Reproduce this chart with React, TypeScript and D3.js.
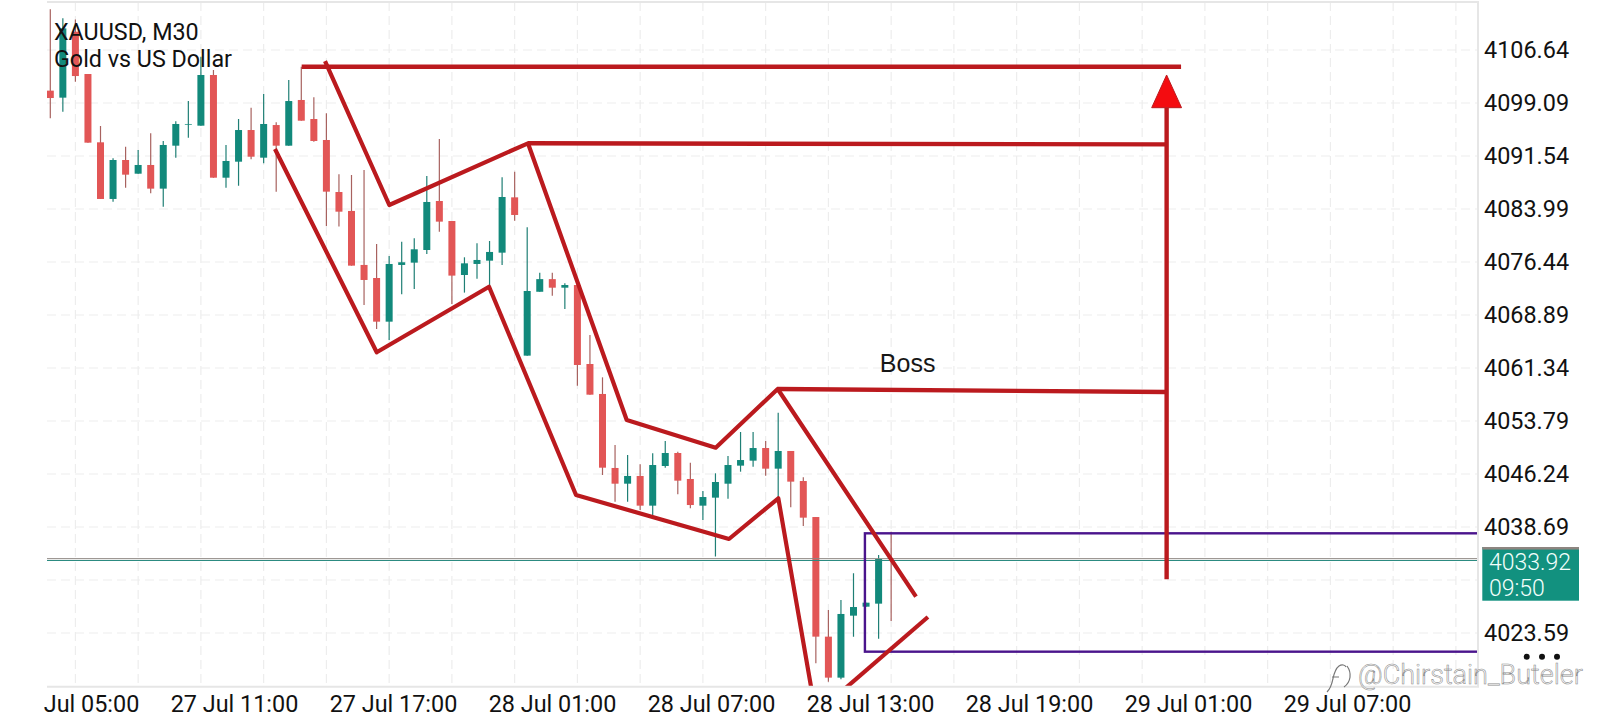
import { useEffect, useRef } from "react";
import * as d3 from "d3";

const WIDTH = 1600;
const HEIGHT = 720;

const opens = [
  4100.85, 4099.85, 4109.25, 4103.22, 4093.49, 4085.42, 4090.97, 4089.02, 4090.26, 4086.89, 4093.01, 4096.0,
  4095.86, 4103.08, 4088.45, 4090.73, 4095.24, 4091.3, 4095.95, 4093.01, 4099.52, 4096.81, 4093.82, 4086.41,
  4083.71, 4076.02, 4074.16, 4067.94, 4076.02, 4076.35, 4078.15, 4085.13, 4082.28, 4074.59, 4076.16, 4076.63,
  4077.77, 4085.65, 4063.1, 4072.2, 4074.0, 4072.78, 4073.16, 4061.91, 4057.64, 4047.1, 4044.86, 4045.96,
  4041.73, 4047.38, 4049.23, 4045.53, 4041.73, 4042.87, 4044.86, 4047.43, 4048.14, 4049.94, 4047.0, 4049.52,
  4045.24, 4040.11, 4023.07, 4017.23, 4026.06, 4027.34, 4027.77, 4034.0,
];
const highs = [
  4112.43, 4111.15, 4111.0, 4103.22, 4095.81, 4091.21, 4092.87, 4092.39, 4094.77, 4093.68, 4096.48, 4099.37,
  4105.69, 4103.79, 4093.11, 4096.81, 4098.42, 4100.37, 4096.33, 4102.36, 4104.26, 4099.9, 4097.62, 4088.93,
  4088.84, 4089.55, 4079.0, 4077.3, 4079.34, 4079.81, 4088.69, 4093.96, 4082.28, 4077.11, 4079.1, 4079.43,
  4088.5, 4089.31, 4081.38, 4074.92, 4074.92, 4073.4, 4073.4, 4066.04, 4060.01, 4050.37, 4048.95, 4047.62,
  4049.18, 4050.94, 4049.42, 4047.86, 4043.82, 4046.34, 4048.8, 4052.22, 4052.22, 4050.94, 4054.98, 4049.52,
  4045.76, 4040.11, 4026.87, 4028.29, 4032.09, 4027.91, 4034.7, 4038.03,
];
const lows = [
  4096.9, 4097.85, 4102.13, 4093.44, 4085.42, 4085.04, 4087.03, 4089.02, 4086.22, 4084.32, 4091.3, 4094.15,
  4095.86, 4088.45, 4087.03, 4087.31, 4091.06, 4090.49, 4086.46, 4093.01, 4096.57, 4093.58, 4081.57, 4081.48,
  4075.92, 4070.32, 4066.9, 4065.33, 4071.84, 4072.6, 4077.58, 4080.76, 4070.46, 4072.08, 4074.07, 4072.93,
  4076.02, 4082.33, 4063.1, 4072.2, 4071.64, 4069.74, 4058.82, 4057.54, 4046.1, 4042.3, 4042.3, 4041.11,
  4040.4, 4047.14, 4043.34, 4041.35, 4039.69, 4034.47, 4042.73, 4046.57, 4047.28, 4046.0, 4042.77, 4041.49,
  4038.83, 4019.27, 4016.66, 4017.0, 4023.07, 4027.34, 4022.78, 4025.3,
];
const closes = [
  4099.8, 4109.72, 4102.93, 4093.44, 4085.42, 4090.97, 4088.88, 4090.26, 4086.89, 4093.11, 4096.1, 4096.1,
  4103.08, 4088.45, 4090.83, 4095.24, 4091.44, 4096.1, 4093.01, 4099.37, 4096.57, 4093.68, 4086.46, 4083.61,
  4075.92, 4073.88, 4067.94, 4076.16, 4076.4, 4078.25, 4084.99, 4082.19, 4074.5, 4076.25, 4076.73, 4077.87,
  4085.7, 4083.14, 4072.31, 4074.0, 4072.78, 4073.16, 4061.77, 4057.54, 4047.14, 4044.86, 4045.96, 4041.73,
  4047.52, 4049.23, 4045.29, 4041.82, 4042.96, 4045.1, 4047.52, 4048.23, 4049.94, 4047.0, 4049.52, 4045.15,
  4040.02, 4023.07, 4017.23, 4026.3, 4027.29, 4027.91, 4034.13, 4033.92,
];

const priceTicks = [
  4106.64, 4099.09, 4091.54, 4083.99, 4076.44, 4068.89, 4061.34, 4053.79, 4046.24, 4038.69, 4031.14, 4023.59,
];
const timeLabels = [
  "27 Jul 05:00",
  "27 Jul 11:00",
  "27 Jul 17:00",
  "28 Jul 01:00",
  "28 Jul 07:00",
  "28 Jul 13:00",
  "28 Jul 19:00",
  "29 Jul 01:00",
  "29 Jul 07:00",
];
const gridBars = d3.range(2, 113, 5);

// hand drawn objects on the chart, as [bar, price]
type Pt = [number, number];
const topLevel: Pt[] = [[20.03, 4104.26], [90.1, 4104.26]];
const upperZigzag: Pt[] = [
  [21.89, 4105.07], [27.01, 4084.56], [38.06, 4093.35], [45.93, 4053.93],
  [53.02, 4049.99], [57.96, 4058.35], [68.98, 4028.76],
];
const lowerZigzag: Pt[] = [
  [17.9, 4092.54], [26.01, 4063.58], [34.96, 4072.92], [41.89, 4043.25],
  [54.08, 4036.98], [58.01, 4042.78], [60.94, 4012.6],
];
const lowerLeg: Pt[] = [[61.81, 4013.34], [69.93, 4025.87]];
const swingHigh: Pt[] = [[38.06, 4093.35], [88.9, 4093.2]];
const bossLevel: Pt[] = [[57.96, 4058.35], [88.9, 4057.92]];
const arrowShaft: Pt[] = [[88.95, 4031.24], [88.95, 4098.42]];
const arrowHead: Pt[] = [[87.76, 4098.42], [88.95, 4103.08], [90.14, 4098.42]];
const boxBars = [64.91, 118];
const boxPrices = [4037.79, 4020.93];
const bidPrice = 4033.92;
const askPrice = 4034.18;

const GREEN = "#12897b";
const RED = "#e25656";
const LINE_RED = "#bb1a1e";
const PURPLE = "#4a148c";
const GRID = "#ededed";
const FONT = "Roboto, sans-serif";

export default function App() {
  const svgRef = useRef<SVGSVGElement>(null);

  useEffect(() => {
    const plot = { left: 47, right: 1478, top: 2, bottom: 686.7 };
    const svg = d3.select(svgRef.current);
    svg.selectAll("*").remove();

    const x = d3.scaleLinear().domain([0, 113]).range([50.3, 1468.45]);
    const y = d3.scaleLinear().domain([4106.64, 4023.59]).range([50, 633]);
    const timeX = d3.scalePoint<string>().domain(timeLabels).range([75, 1347]);

    const defs = svg.append("defs");
    defs
      .append("clipPath")
      .attr("id", "plot-clip")
      .append("rect")
      .attr("x", plot.left)
      .attr("y", plot.top)
      .attr("width", plot.right - plot.left)
      .attr("height", plot.bottom - plot.top);
    defs
      .append("clipPath")
      .attr("id", "label-clip")
      .append("rect")
      .attr("x", 44)
      .attr("y", plot.bottom)
      .attr("width", WIDTH)
      .attr("height", HEIGHT - plot.bottom);

    const g = svg.append("g").attr("clip-path", "url(#plot-clip)");

    // Grid
    g.append("g")
      .selectAll("line")
      .data(priceTicks)
      .join("line")
      .attr("x1", plot.left)
      .attr("x2", plot.right)
      .attr("y1", (d) => y(d))
      .attr("y2", (d) => y(d))
      .attr("stroke", GRID)
      .attr("stroke-width", 1.2)
      .attr("stroke-dasharray", "9,5");
    g.append("g")
      .selectAll("line")
      .data(gridBars)
      .join("line")
      .attr("x1", (d) => x(d))
      .attr("x2", (d) => x(d))
      .attr("y1", plot.top)
      .attr("y2", plot.bottom)
      .attr("stroke", GRID)
      .attr("stroke-width", 1.2)
      .attr("stroke-dasharray", "9,5");

    // Candles
    const bars = d3.range(opens.length);
    g.append("g")
      .selectAll("line")
      .data(bars)
      .join("line")
      .attr("x1", (i) => x(i))
      .attr("x2", (i) => x(i))
      .attr("y1", (i) => y(highs[i]))
      .attr("y2", (i) => y(lows[i]))
      .attr("stroke", (i) => (closes[i] >= opens[i] ? "#1f7f75" : "#a8625f"))
      .attr("stroke-width", 1.2);
    g.append("g")
      .selectAll("rect")
      .data(bars)
      .join("rect")
      .attr("x", (i) => x(i) - 3.5)
      .attr("width", 7)
      .attr("y", (i) => y(Math.max(opens[i], closes[i])))
      .attr("height", (i) => Math.abs(y(opens[i]) - y(closes[i])))
      .attr("fill", (i) => (closes[i] >= opens[i] ? GREEN : RED));

    // Bid and ask lines
    [
      { price: askPrice, color: "#8d8580" },
      { price: bidPrice, color: "#2a8a80" },
    ].forEach((l) => {
      g.append("line")
        .attr("x1", plot.left)
        .attr("x2", plot.right)
        .attr("y1", y(l.price))
        .attr("y2", y(l.price))
        .attr("stroke", l.color)
        .attr("stroke-width", 1);
    });

    // Range box, runs off the right edge
    g.append("rect")
      .attr("x", x(boxBars[0]))
      .attr("y", y(boxPrices[0]))
      .attr("width", x(boxBars[1]) - x(boxBars[0]))
      .attr("height", y(boxPrices[1]) - y(boxPrices[0]))
      .attr("fill", "none")
      .attr("stroke", PURPLE)
      .attr("stroke-width", 2.4);

    const line = d3
      .line<Pt>()
      .x((d) => x(d[0]))
      .y((d) => y(d[1]));

    [topLevel, swingHigh, bossLevel].forEach((pts) => {
      g.append("path")
        .attr("d", line(pts))
        .attr("fill", "none")
        .attr("stroke", LINE_RED)
        .attr("stroke-width", 4.4);
    });
    [upperZigzag, lowerZigzag, lowerLeg].forEach((pts) => {
      g.append("path")
        .attr("d", line(pts))
        .attr("fill", "none")
        .attr("stroke", LINE_RED)
        .attr("stroke-width", 4.2)
        .attr("stroke-linejoin", "round");
    });

    // Target arrow
    g.append("path")
      .attr("d", line(arrowShaft))
      .attr("fill", "none")
      .attr("stroke", LINE_RED)
      .attr("stroke-width", 4.4);
    g.append("path")
      .attr("d", line(arrowHead) + "Z")
      .attr("fill", "#f40c10")
      .attr("stroke", LINE_RED)
      .attr("stroke-width", 1);

    // Boss label
    svg
      .append("text")
      .attr("x", x(66.1))
      .attr("y", y(4057.92) - 20)
      .attr("font-family", "Liberation Sans, Arial, sans-serif")
      .attr("font-size", 25)
      .attr("fill", "#161616")
      .text("Boss");

    // Title
    const title = svg
      .append("g")
      .attr("font-family", FONT)
      .attr("font-size", 23.3)
      .attr("fill", "#111");
    title.append("text").attr("x", 54).attr("y", 40).text("XAUUSD, M30");
    title.append("text").attr("x", 54).attr("y", 66.5).text("Gold vs US Dollar");

    // Frame
    svg
      .append("path")
      .attr("d", `M${plot.left},${plot.top}H${plot.right}V${plot.bottom}H${plot.left}`)
      .attr("fill", "none")
      .attr("stroke", "#e6e6e6")
      .attr("stroke-width", 2);

    // Price axis
    const priceAxis = svg
      .append("g")
      .attr("transform", `translate(${plot.right},0)`)
      .call(
        d3
          .axisRight(y)
          .tickValues(priceTicks.filter((p) => p !== 4031.14))
          .tickFormat((d) => (d as number).toFixed(2))
          .tickSize(0)
          .tickPadding(6)
      );
    priceAxis.select(".domain").remove();
    priceAxis
      .selectAll("text")
      .attr("font-family", FONT)
      .attr("font-size", 23.4)
      .attr("fill", "#111");

    // Time axis
    const timeAxis = svg
      .append("g")
      .attr("clip-path", "url(#label-clip)")
      .append("g")
      .attr("transform", `translate(0,${plot.bottom})`)
      .call(d3.axisBottom(timeX).tickSize(0).tickPadding(8.4));
    timeAxis.select(".domain").remove();
    timeAxis
      .selectAll("text")
      .attr("font-family", FONT)
      .attr("font-size", 23.4)
      .attr("fill", "#111");

    // Last price tag
    const tag = svg.append("g");
    tag
      .append("rect")
      .attr("x", 1482.3)
      .attr("y", 547)
      .attr("width", 96.7)
      .attr("height", 53.7)
      .attr("fill", "#12917f");
    tag
      .append("rect")
      .attr("x", 1482.3)
      .attr("y", 547)
      .attr("width", 96.7)
      .attr("height", 2.6)
      .attr("fill", "#8d8580");
    tag
      .append("g")
      .attr("font-family", FONT)
      .attr("font-weight", 300)
      .attr("font-size", 23)
      .attr("fill", "#f2fffc")
      .call((t) => {
        t.append("text").attr("x", 1489).attr("y", 570).text(bidPrice.toFixed(2));
        t.append("text").attr("x", 1489).attr("y", 596).text("09:50");
      });

    // Menu dots
    svg
      .append("g")
      .selectAll("circle")
      .data([1526.7, 1542, 1557])
      .join("circle")
      .attr("cx", (d) => d)
      .attr("cy", 656.7)
      .attr("r", 3)
      .attr("fill", "#111");

    // Watermark
    const mark = svg.append("g");
    mark
      .append("path")
      .attr("d", "M1327,692C1335,685 1331,672 1339,666C1342,664 1345,665 1346,667M1332,677H1339M1347,666C1352,673 1351,682 1344,687")
      .attr("fill", "none")
      .attr("stroke", "#777")
      .attr("stroke-width", 1.2);
    mark
      .append("text")
      .attr("x", 1358)
      .attr("y", 684)
      .attr("font-family", FONT)
      .attr("font-weight", 300)
      .attr("font-size", 27)
      .attr("fill", "#fff")
      .attr("stroke", "#8a8a8a")
      .attr("stroke-width", 0.55)
      .text("@Chirstain_Buteler");
  }, []);

  return (
    <div style={{ position: "absolute", left: 0, top: 0, width: WIDTH, height: HEIGHT, background: "#fff" }}>
      <svg ref={svgRef} width={WIDTH} height={HEIGHT} style={{ display: "block" }} />
    </div>
  );
}
